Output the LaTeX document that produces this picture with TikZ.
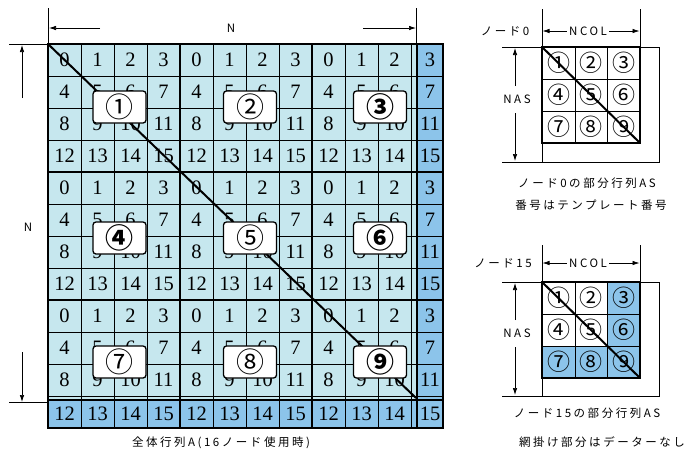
\documentclass[tikz,border=0pt]{standalone}
\usepackage{fontspec}
\setmainfont{Liberation Serif}
\newfontfamily\jp[LetterSpace=22]{Noto Sans CJK JP}
\newfontfamily\jpc{Noto Sans CJK JP}
\usetikzlibrary{arrows.meta}
\definecolor{lcyan}{HTML}{C6E7EE}
\definecolor{dblue}{HTML}{8CC4EA}
\tikzset{
  thinl/.style={line width=0.9pt, black},
  thickl/.style={line width=2.6pt, black},
  diag/.style={line width=2pt, black},
  dimline/.style={line width=0.7pt, black},
  dimarrow/.style={line width=0.7pt, -{Latex[length=7pt,width=4.5pt]}},
  cellnum/.style={font=\fontsize{20.5}{20}\selectfont, inner sep=0pt},
  lbl/.style={draw, fill=white, rounded corners=3pt, line width=1.3pt, minimum width=53pt, minimum height=32pt, inner sep=0pt, font=\jpc\fontsize{28}{28}\selectfont},
  lblb/.style={lbl, font=\jpc\bfseries\fontsize{28}{28}\selectfont},
  small/.style={font=\jpc\fontsize{23}{23}\selectfont, inner sep=0pt},
  jtext/.style={font=\jp\fontsize{11.5}{12}\selectfont, inner sep=0pt},
}
\begin{document}
\begin{tikzpicture}[x=1pt,y=-1pt]
\useasboundingbox (0,0) rectangle (693,456);
% ---------- main matrix ----------
\fill[lcyan] (48,44) rectangle (417,400);
\fill[dblue] (417,44) rectangle (443,428);
\fill[dblue] (48,400) rectangle (443,428);
\foreach \x in {81,114,147,213,246,279,345,378,411}
  \draw[thinl] (\x,44) -- (\x,428);
\foreach \y in {76,108,140,204,236,268,332,364,396}
  \draw[thinl] (48,\y) -- (443,\y);
\foreach \br in {0,1,2}
 \foreach \bc in {0,1,2}
  \foreach \r in {0,1,2,3}
   \foreach \c in {0,1,2,3} {
     \pgfmathsetmacro\cx{(\bc<2 || \c<3) ? 48+132*\bc+33*\c+16.5 : 430}
     \pgfmathsetmacro\cy{(\br<2 || \r<3) ? 44+128*\br+32*\r+16 : 414}
     \pgfmathtruncatemacro\n{4*\r+\c}
     \node[cellnum] (c-\br-\bc-\r-\c) at (\cx,\cy) {\n};
   }
\draw[thickl] (48,44) rectangle (443,428);
\foreach \x in {180,312,417} \draw[thickl] (\x,44) -- (\x,428);
\foreach \y in {172,300,400} \draw[thickl] (48,\y) -- (443,\y);
\coordinate (dA) at (48,44);
\coordinate (dB) at (416,398);
\draw[diag] (dA) -- (dB);
\node[lbl]  (b1) at (119.5,107) {①};
\node[lbl]  (b2) at (250,107) {②};
\node[lblb] (b3) at (380,107) {③};
\node[lblb] (b4) at (119.5,238) {④};
\node[lbl]  (b5) at (250,238) {⑤};
\node[lblb] (b6) at (380,238) {⑥};
\node[lbl]  (b7) at (119.5,362) {⑦};
\node[lbl]  (b8) at (250,362) {⑧};
\node[lblb] (b9) at (380,362) {⑨};
% dimensions
\coordinate (tl0) at (48,8);  \coordinate (tl1) at (48,44);
\coordinate (tr0) at (416,8); \coordinate (tr1) at (416,44);
\draw[dimline] (tl0) -- (tl1);
\draw[dimline] (tr0) -- (tr1);
\coordinate (lt0) at (9,44);  \coordinate (lt1) at (48,44);
\coordinate (lb0) at (9,402); \coordinate (lb1) at (48,402);
\draw[dimline] (lt0) -- (lt1);
\draw[dimline] (lb0) -- (lb1);
\node[jtext] (Ntop) at (231,28) {N};
\node[jtext] (Nleft) at (28,227) {N};
\coordinate (a1) at (100,28); \coordinate (a1e) at (49,28);
\coordinate (a2) at (363,28); \coordinate (a2e) at (416,28);
\draw[dimarrow] (a1) -- (a1e);
\draw[dimarrow] (a2) -- (a2e);
\coordinate (a3) at (22,98); \coordinate (a3e) at (22,45);
\coordinate (a4) at (22,352); \coordinate (a4e) at (22,402);
\draw[dimarrow] (a3) -- (a3e);
\draw[dimarrow] (a4) -- (a4e);
\node[jtext] (cap) at (221,443) {全体行列A(16ノード使用時)};
% ---------- small diagram 1 ----------
\draw[dimline] (502,47) -- (659,47) -- (659,162) -- (502,162);
\draw[dimline] (542,9) -- (542,162);
\draw[dimline] (640,9) -- (640,47);
\foreach \x in {575,607} \draw[thinl] (\x,47) -- (\x,143);
\foreach \y in {79,111} \draw[thinl] (542,\y) -- (640,\y);
\draw[line width=2.4pt] (542,47) rectangle (640,143);
\draw[diag] (542,47) -- (640,143);
\node[small] (s1) at (558.5,63) {①};
\node[small] (s2) at (591,63) {②};
\node[small] (s3) at (623.5,63) {③};
\node[small] (s4) at (558.5,95) {④};
\node[small] (s5) at (591,95) {⑤};
\node[small] (s6) at (623.5,95) {⑥};
\node[small] (s7) at (558.5,127) {⑦};
\node[small] (s8) at (591,127) {⑧};
\node[small] (s9) at (623.5,127) {⑨};
\node[jtext] (n0) at (505,31) {ノード0};
\node[jtext, fill=white, inner sep=2pt] (ncol1) at (588,31) {NCOL};
\draw[dimarrow] (ncol1.west) -- (542.5,31);
\draw[dimarrow] (ncol1.east) -- (639.5,31);
\node[jtext] (nas1) at (517,99) {NAS};
\draw[dimarrow] (515,86) -- (515,48);
\draw[dimarrow] (515,113) -- (515,161);
\node[jtext] (cap1) at (587,183) {ノード0の部分行列AS};
\node[jtext] (cap2) at (591,205) {番号はテンプレート番号};
% ---------- small diagram 2 ----------
\fill[dblue] (607,282) rectangle (640,378);
\fill[dblue] (542,346) rectangle (640,378);
\draw[dimline] (502,282) -- (659,282) -- (659,396) -- (502,396);
\draw[dimline] (542,245) -- (542,396);
\draw[dimline] (640,245) -- (640,282);
\foreach \x in {575,607} \draw[thinl] (\x,282) -- (\x,378);
\foreach \y in {314,346} \draw[thinl] (542,\y) -- (640,\y);
\draw[line width=2.4pt] (542,282) rectangle (640,378);
\draw[diag] (542,282) -- (640,378);
\node[small] (t1) at (558.5,298) {①};
\node[small] (t2) at (591,298) {②};
\node[small] (t3) at (623.5,298) {③};
\node[small] (t4) at (558.5,330) {④};
\node[small] (t5) at (591,330) {⑤};
\node[small] (t6) at (623.5,330) {⑥};
\node[small] (t7) at (558.5,362) {⑦};
\node[small] (t8) at (591,362) {⑧};
\node[small] (t9) at (623.5,362) {⑨};
\node[jtext] (n15) at (503,263) {ノード15};
\node[jtext, fill=white, inner sep=2pt] (ncol2) at (588,263) {NCOL};
\draw[dimarrow] (ncol2.west) -- (542.5,263);
\draw[dimarrow] (ncol2.east) -- (639.5,263);
\node[jtext] (nas2) at (517,333) {NAS};
\draw[dimarrow] (515,320) -- (515,283);
\draw[dimarrow] (515,347) -- (515,395);
\node[jtext] (cap3) at (587,413) {ノード15の部分行列AS};
\node[jtext] (cap4) at (602,442) {網掛け部分はデーターなし};
\end{tikzpicture}
\end{document}
